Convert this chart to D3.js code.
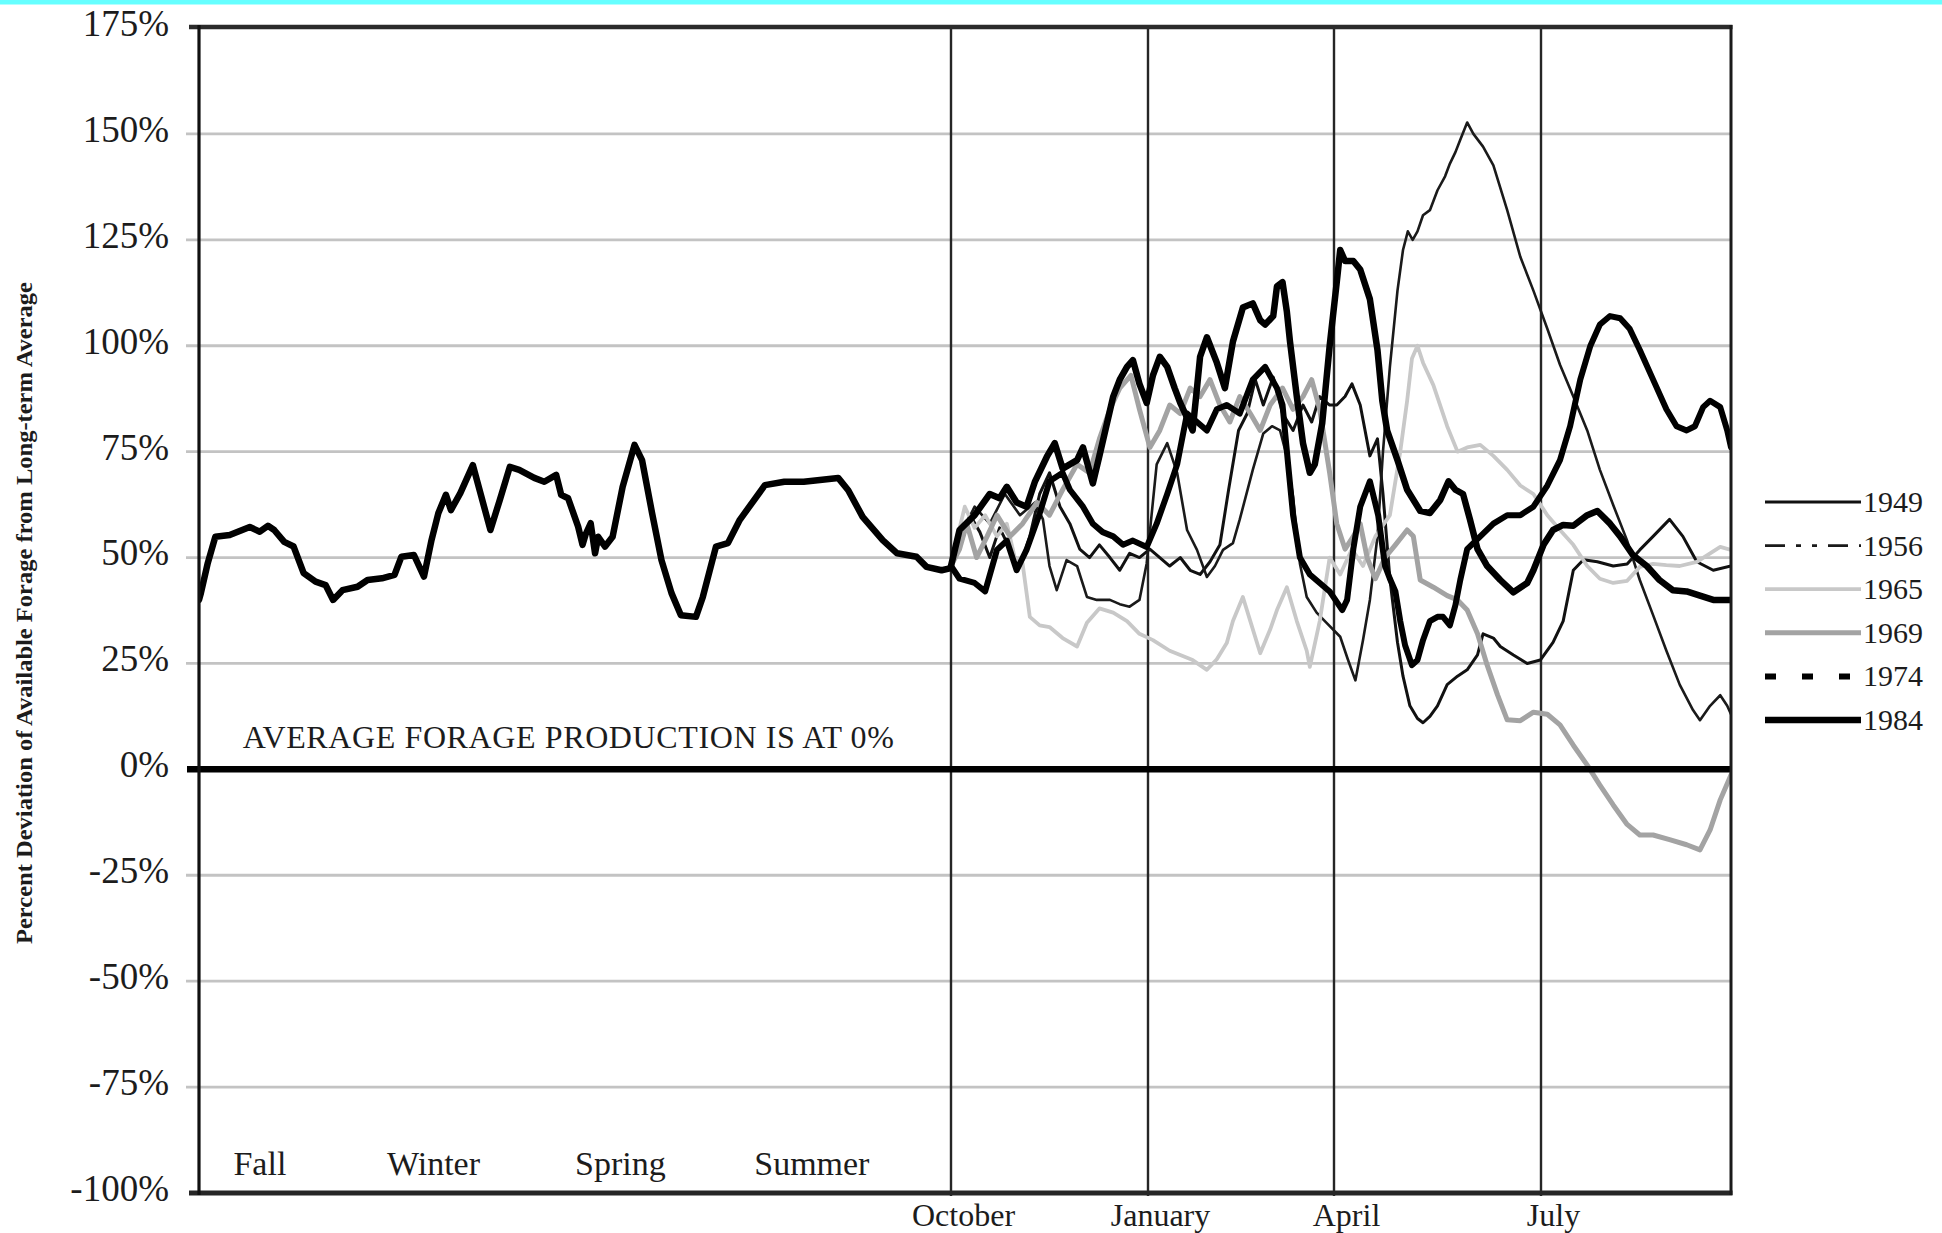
<!DOCTYPE html>
<html>
<head>
<meta charset="utf-8">
<title>Percent Deviation of Available Forage</title>
<script src="https://cdn.jsdelivr.net/npm/d3@7"></script>
<style>
  html, body { margin: 0; padding: 0; background: #fff; }
  svg { display: block; }
  text { font-family: "Liberation Serif", "Times New Roman", serif; fill: #1c1c1c; }
</style>
</head>
<body>
<svg id="chart" width="1942" height="1233"></svg>
<script>
// ---- data -------------------------------------------------------------
// x values are months: 0..12 is the preceding year (Fall..Summer),
// 12 = October, 15 = January, 18 = April, 21 = July, 24 = end of September.
const yTicks = [175, 150, 125, 100, 75, 50, 25, 0, -25, -50, -75, -100];
const monthTicks = [12, 15, 18, 21];
const monthLabels = ["October", "January", "April", "July"];
const seasonLabels = ["Fall", "Winter", "Spring", "Summer"];
const seasonMonths = [0.55, 3.0, 6.0, 8.86];
const years = ["1949", "1956", "1965", "1969", "1974", "1984"];

const priorYear = [
  [0,40],[0.03,41.6],[0.14,48.7],[0.26,54.9],[0.49,55.3],[0.81,57.2],[0.97,56.1],[1.1,57.5],[1.2,56.5],
  [1.36,53.7],[1.51,52.6],[1.67,46.3],[1.86,44.3],[2.02,43.5],[2.14,40],[2.29,42.3],[2.53,43.1],
  [2.69,44.7],[2.92,45.1],[3.12,45.9],[3.23,50.2],[3.43,50.6],[3.59,45.5],[3.71,54.1],[3.82,60.5],
  [3.94,64.8],[4.02,61.2],[4.17,65.2],[4.37,71.8],[4.65,56.5],[4.8,63.6],[4.96,71.4],[5.11,70.7],
  [5.35,68.8],[5.51,67.9],[5.7,69.5],[5.78,64.8],[5.89,64],[6.05,57.3],[6.12,53],[6.17,55.5],[6.25,58.1],
  [6.32,51],[6.37,54.9],[6.48,52.6],[6.6,54.9],[6.76,66.7],[6.95,76.6],[7.07,73],[7.23,60.5],
  [7.38,49.4],[7.54,41.6],[7.69,36.4],[7.93,36],[8.04,40.7],[8.25,52.6],[8.44,53.4],[8.63,58.9],
  [9.03,67.1],[9.34,67.9],[9.65,67.9],[10.2,68.8],[10.36,65.9],[10.59,59.6],[10.91,54.1],[11.14,51],
  [11.45,50.2],[11.61,47.8],[11.85,47],[12,47.5]
];

const s1949 = [
  [12.00,48],[12.13,52],[12.29,60],[12.44,56],[12.59,50],[12.74,57],[12.90,52],[13.05,48],[13.20,55],
  [13.35,65],[13.50,70],[13.66,62],[13.81,58],[13.96,52],[14.11,50],[14.26,53],[14.42,50],[14.57,47],
  [14.72,51],[14.87,50],[15.03,52],[15.19,50],[15.35,48],[15.52,50],[15.68,47],[15.84,46],[16.00,49],
  [16.16,53],[16.30,66],[16.46,80],[16.60,84],[16.73,92],[16.86,86],[17.02,92.6],[17.17,84],[17.34,80],
  [17.50,86],[17.64,82],[17.77,88],[17.93,86],[18.04,86],[18.16,88],[18.26,91],[18.38,86],[18.52,74],
  [18.63,78],[18.71,65],[18.81,45],[18.92,30],[19.00,22],[19.10,15],[19.21,12],[19.29,11],[19.39,12.5],
  [19.50,15],[19.64,20],[19.79,22],[19.93,23.5],[20.08,27],[20.16,32],[20.31,31],[20.41,29],[20.60,27],
  [20.80,25],[20.99,25.8],[21.19,30],[21.35,35],[21.51,47],[21.67,49.5],[21.89,49],[22.14,48],
  [22.36,48.5],[22.56,51.8],[22.77,55],[23.03,59],[23.24,55],[23.46,49],[23.72,47],[24.00,48]
];

const s1956 = [
  [12.00,48],[12.13,55],[12.36,62],[12.59,58],[12.82,65],[13.05,60],[13.28,63],[13.40,59],[13.50,48],
  [13.61,42.3],[13.76,49.4],[13.92,48],[14.07,40.7],[14.22,40],[14.42,40],[14.57,39],[14.72,38.4],
  [14.87,40],[14.98,48.6],[15.14,72],[15.31,77],[15.47,70],[15.63,56.5],[15.79,51.8],[15.95,45.4],
  [16.08,48],[16.21,51.8],[16.37,53.4],[16.48,59],[16.69,70.7],[16.86,79.3],[17.00,81],[17.13,80],
  [17.24,73.8],[17.34,64.3],[17.45,48.6],[17.56,40.7],[17.72,37],[17.88,34.6],[18.09,31.3],[18.20,26],
  [18.31,21],[18.42,30.5],[18.52,40],[18.63,55],[18.71,75],[18.81,95],[18.92,113],[19.00,122.6],
  [19.07,127],[19.14,125],[19.21,127],[19.29,130.8],[19.39,132],[19.50,136.7],[19.61,140],[19.68,143],
  [19.76,145.7],[19.83,148.6],[19.93,152.7],[20.02,150],[20.16,147],[20.31,142.6],[20.51,132],
  [20.70,121],[20.89,113],[21.10,104],[21.30,95.5],[21.51,88],[21.73,80],[21.93,70.7],[22.14,62.4],
  [22.36,54],[22.56,44.7],[22.77,36.4],[22.98,28],[23.19,20],[23.40,14],[23.51,11.6],[23.67,15],
  [23.83,17.5],[23.94,15],[24.00,13]
];

const s1965 = [
  [12.00,48],[12.10,55],[12.21,62],[12.36,57],[12.52,60],[12.70,55],[12.85,58],[12.97,50],[13.09,48.6],
  [13.20,36],[13.35,34],[13.50,33.6],[13.70,31],[13.92,29],[14.07,34.6],[14.26,38],[14.47,37],[14.68,35],
  [14.87,32],[15.08,30.5],[15.35,28],[15.72,25.8],[15.95,23.5],[16.11,26],[16.27,29.8],[16.37,35],
  [16.53,40.7],[16.65,35],[16.81,27.4],[16.97,33],[17.08,37.6],[17.24,43],[17.40,35],[17.56,28],
  [17.61,24.2],[17.77,35],[17.93,50],[18.09,46],[18.26,52],[18.42,48],[18.60,55],[18.81,60],[18.96,75],
  [19.06,87],[19.13,97],[19.21,100],[19.29,96],[19.44,90.7],[19.64,81],[19.79,75],[19.93,76],[20.12,76.6],
  [20.31,74],[20.51,70.7],[20.70,67],[20.89,65],[21.10,60],[21.30,56.5],[21.51,53],[21.73,48],[21.93,45],
  [22.14,44],[22.36,44.5],[22.56,47.8],[22.77,48.5],[22.98,48.2],[23.19,48],[23.46,49],[23.67,51],
  [23.83,52.5],[24.00,51.8]
];

const s1969 = [
  [12.00,48],[12.13,52],[12.24,58],[12.39,50],[12.55,55],[12.70,60],[12.90,55],[13.09,58],[13.31,63],
  [13.50,60],[13.70,66],[13.92,72],[14.11,70],[14.26,78],[14.42,85],[14.57,90],[14.74,93],[14.87,85],
  [15.03,76],[15.19,80],[15.35,86],[15.52,84],[15.68,90],[15.84,88],[16.00,92],[16.16,86],[16.32,82],
  [16.48,88],[16.65,84],[16.81,80],[16.97,86],[17.17,90],[17.34,85],[17.50,88],[17.64,92],[17.77,85],
  [17.93,70],[18.04,58],[18.16,52],[18.28,55],[18.38,58],[18.48,50],[18.60,45],[18.74,50],[18.89,53],
  [19.06,56.5],[19.15,55],[19.25,44.7],[19.44,43],[19.64,41],[19.79,40],[19.93,37.6],[20.08,32],
  [20.22,24.6],[20.37,17.6],[20.51,11.7],[20.70,11.5],[20.89,13.5],[21.10,13],[21.30,10.5],[21.51,5.7],
  [21.73,1],[21.93,-3.7],[22.14,-8.4],[22.36,-13],[22.56,-15.5],[22.77,-15.5],[23.03,-16.6],
  [23.30,-17.8],[23.51,-19],[23.67,-14.3],[23.83,-7.2],[24.00,-1.3]
];

const s1974 = [
  [12.00,48],[12.13,45],[12.36,44],[12.52,42],[12.70,51.8],[12.85,54],[13.00,47],[13.15,51.8],[13.35,60.4],
  [13.50,68],[13.70,70],[13.81,66],[14.01,62],[14.16,58],[14.31,56],[14.47,55],[14.62,53],[14.77,54],
  [14.98,52.5],[15.14,58],[15.31,65],[15.47,72],[15.63,84],[15.79,82],[15.95,80],[16.11,85],[16.27,86],
  [16.48,84],[16.69,92],[16.89,95],[17.08,90],[17.17,86],[17.26,72],[17.34,60],[17.45,50],[17.61,46],
  [17.77,44],[17.93,42],[18.12,37.6],[18.19,40],[18.28,52],[18.38,62],[18.52,68],[18.64,60],[18.74,48],
  [18.81,45],[18.89,42],[18.96,35],[19.03,29.3],[19.13,24.6],[19.21,25.8],[19.29,30.5],[19.39,35],
  [19.50,36],[19.58,36],[19.68,34],[19.76,38.8],[19.83,44.7],[19.93,52],[20.12,55],[20.31,58],[20.51,60],
  [20.70,60],[20.89,62],[21.10,67],[21.30,73],[21.46,81],[21.62,92],[21.78,100],[21.93,105],[22.09,107],
  [22.25,106.5],[22.40,104],[22.56,99],[22.77,92],[22.98,85],[23.14,81],[23.30,80],[23.43,81],
  [23.56,85.5],[23.67,87],[23.83,85.5],[23.94,80],[24.00,76]
];

const s1984 = [
  [12.00,48],[12.13,56.5],[12.36,60],[12.59,65],[12.74,64],[12.85,66.7],[13.00,63],[13.15,62],[13.28,68],
  [13.46,73.8],[13.58,77],[13.70,71],[13.81,72],[13.92,73],[14.01,76],[14.16,67.5],[14.26,74],[14.47,88],
  [14.57,92],[14.68,95],[14.77,96.6],[14.87,91],[14.98,86.5],[15.08,93],[15.19,97.4],[15.31,95],
  [15.43,90],[15.52,86.5],[15.63,83],[15.72,80],[15.79,90],[15.84,97.4],[15.95,102],[16.11,96],
  [16.24,90],[16.37,101],[16.53,109],[16.69,110],[16.81,106],[16.89,105],[17.02,107],[17.08,114],
  [17.17,115],[17.24,108],[17.29,101],[17.40,88],[17.50,77],[17.61,70],[17.69,72],[17.81,81.7],
  [17.93,100],[18.04,115],[18.09,122.6],[18.16,120],[18.28,120],[18.38,118],[18.52,111],[18.63,99],
  [18.70,87],[18.77,80],[18.92,73],[19.06,66],[19.25,61],[19.39,60.5],[19.54,63.6],[19.66,68],
  [19.76,66],[19.87,65],[19.97,59],[20.08,52],[20.22,48],[20.41,44.7],[20.60,41.8],[20.80,44],
  [20.89,47],[21.04,53],[21.19,56.5],[21.35,57.7],[21.51,57.5],[21.73,60],[21.89,61],[22.09,58],
  [22.25,55],[22.45,50.6],[22.67,48],[22.87,44.7],[23.08,42.3],[23.30,42],[23.51,41],[23.72,40],[24.00,40]
];

const seriesValues = [s1949, s1956, s1965, s1969, s1974, s1984];

// ---- styles -----------------------------------------------------------
const seriesStyle = {
  "1949": { stroke: "#111", width: 3.0, dash: null },
  "1956": { stroke: "#1a1a1a", width: 2.6, dash: "20,11,5,11,5,11" },
  "1965": { stroke: "#c8c8c8", width: 3.8, dash: null },
  "1969": { stroke: "#a3a3a3", width: 5, dash: null },
  "1974": { stroke: "#000", width: 6, dash: "11,26" },
  "1984": { stroke: "#000", width: 6.5, dash: null }
};

// ---- layout & scales --------------------------------------------------
const W = 1942, H = 1233;
const plot = { left: 199, right: 1731, top: 28, bottom: 1193 };

const x = d3.scaleLinear()
  .domain([0, 12, 15, 18, 21, 24])
  .range([plot.left, 951, 1148, 1334, 1541, plot.right]);
const y = d3.scaleLinear().domain([-100, 175]).range([plot.bottom, plot.top]);

const svg = d3.select("#chart");

svg.append("rect").attr("x", 0).attr("y", 0).attr("width", W).attr("height", 4.5)
  .attr("fill", "#66ffff");

svg.append("defs").append("clipPath").attr("id", "plotClip")
  .append("rect").attr("x", plot.left).attr("y", plot.top)
  .attr("width", plot.right - plot.left).attr("height", plot.bottom - plot.top);

// horizontal grid
svg.append("g").selectAll("line")
  .data(yTicks.filter(v => v !== 0 && v !== 175 && v !== -100))
  .join("line")
  .attr("x1", 186).attr("x2", plot.right)
  .attr("y1", d => y(d)).attr("y2", d => y(d))
  .attr("stroke", "#c3c3c3").attr("stroke-width", 2.8);

// quarter separators
svg.append("g").selectAll("line")
  .data(monthTicks)
  .join("line")
  .attr("x1", d => x(d)).attr("x2", d => x(d))
  .attr("y1", plot.top).attr("y2", plot.bottom + 3)
  .attr("stroke", "#262626").attr("stroke-width", 2.4);

// series
const line = d3.line().x(d => x(d[0])).y(d => y(d[1]));
const lines = svg.append("g").attr("clip-path", "url(#plotClip)");

lines.append("path").datum(priorYear)
  .attr("d", line).attr("fill", "none")
  .attr("stroke", "#000").attr("stroke-width", 6.5)
  .attr("stroke-linejoin", "round").attr("stroke-linecap", "round");

years.forEach((yr, i) => {
  const st = seriesStyle[yr];
  lines.append("path").datum(seriesValues[i])
    .attr("d", line).attr("fill", "none")
    .attr("stroke", st.stroke).attr("stroke-width", st.width)
    .attr("stroke-linejoin", "round").attr("stroke-linecap", "round");
});

// zero line
svg.append("line")
  .attr("x1", 187).attr("x2", plot.right)
  .attr("y1", y(0)).attr("y2", y(0))
  .attr("stroke", "#000").attr("stroke-width", 6.5);

// frame
const frame = svg.append("g").attr("fill", "none");
frame.append("line").attr("x1", plot.left - 10).attr("x2", plot.right + 1.5)
  .attr("y1", plot.top - 1).attr("y2", plot.top - 1)
  .attr("stroke", "#2b2b2b").attr("stroke-width", 4.5);
frame.append("line").attr("x1", plot.left - 10).attr("x2", plot.right + 1.5)
  .attr("y1", plot.bottom).attr("y2", plot.bottom)
  .attr("stroke", "#262626").attr("stroke-width", 5);
frame.append("line").attr("x1", plot.left).attr("x2", plot.left)
  .attr("y1", plot.top - 3).attr("y2", plot.bottom + 2)
  .attr("stroke", "#111").attr("stroke-width", 3.2);
frame.append("line").attr("x1", plot.right).attr("x2", plot.right)
  .attr("y1", plot.top - 3).attr("y2", plot.bottom + 2)
  .attr("stroke", "#1a1a1a").attr("stroke-width", 3);

// y axis labels
const gy = svg.append("g")
  .attr("transform", `translate(${plot.left},0)`)
  .call(d3.axisLeft(y).tickValues(yTicks).tickFormat(d => d + "%").tickSize(0).tickPadding(30));
gy.select(".domain").remove();
gy.attr("font-family", null).attr("font-size", null);
gy.selectAll("text").attr("font-size", 37).attr("dy", "0.2em").attr("fill", "#1c1c1c");

// month labels
const gx = svg.append("g")
  .attr("transform", `translate(0,${plot.bottom})`)
  .call(d3.axisBottom(x).tickValues(monthTicks).tickFormat((d, i) => monthLabels[i]).tickSize(0).tickPadding(10));
gx.select(".domain").remove();
gx.attr("font-family", null).attr("font-size", null);
gx.selectAll("text").attr("font-size", 32).attr("dx", 12).attr("fill", "#1c1c1c");

// season labels
svg.append("g").selectAll("text")
  .data(seasonLabels)
  .join("text")
  .attr("x", (d, i) => x(seasonMonths[i]))
  .attr("y", plot.bottom - 18)
  .attr("font-size", 34)
  .text(d => d);

// baseline note
svg.append("text")
  .attr("x", x(0.7)).attr("y", y(5))
  .attr("font-size", 32)
  .attr("textLength", 651).attr("lengthAdjust", "spacing")
  .text("AVERAGE FORAGE PRODUCTION IS AT 0%");

// y axis title
svg.append("text")
  .attr("transform", "translate(32,613) rotate(-90)")
  .attr("text-anchor", "middle")
  .attr("font-size", 23).attr("font-weight", "bold")
  .attr("textLength", 662).attr("lengthAdjust", "spacingAndGlyphs")
  .text("Percent Deviation of Available Forage from Long-term Average");

// legend
const legend = svg.append("g");
years.forEach((yr, i) => {
  const st = seriesStyle[yr];
  const cy = 502 + i * 43.6;
  legend.append("line")
    .attr("x1", 1765).attr("x2", 1861).attr("y1", cy).attr("y2", cy)
    .attr("stroke", st.stroke).attr("stroke-width", st.width)
    .attr("stroke-dasharray", st.dash);
  legend.append("text")
    .attr("x", 1863).attr("y", cy + 10)
    .attr("font-size", 30)
    .text(yr);
});
</script>
</body>
</html>
